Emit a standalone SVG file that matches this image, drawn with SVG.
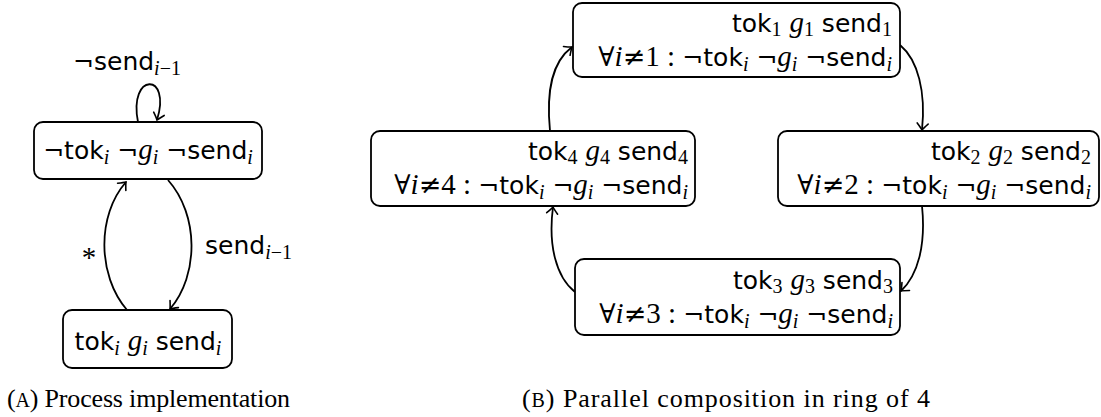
<svg xmlns="http://www.w3.org/2000/svg" width="1101" height="417" viewBox="0 0 1101 417">
<style>
.box{fill:#fff;stroke:#000;stroke-width:1.8}
.edge{fill:none;stroke:#000;stroke-width:1.8;marker-end:url(#arr)}
.s{font-family:"DejaVu Sans",sans-serif;font-size:25px}
.r{font-family:"Liberation Serif","DejaVu Serif",serif;font-size:29px}
.op{font-family:"DejaVu Serif",serif;font-size:27px}
.mi{font-family:"Liberation Serif","DejaVu Serif",serif;font-style:italic;font-size:29px}
.sub{font-size:20px}
.cap{font-family:"Liberation Serif","DejaVu Serif",serif;font-size:26px}
.sc{font-size:20px}
text{fill:#000}
</style>
<defs>
<marker id="arr" markerWidth="14" markerHeight="14" refX="0" refY="0" viewBox="-8 -7 10 14" orient="auto" markerUnits="userSpaceOnUse">
<path d="M-6.5,-5.5 Q-2,-1.3 0,0 Q-2,1.3 -6.5,5.5" fill="none" stroke="#000" stroke-width="1.6" stroke-linecap="round"/>
</marker>
</defs>
<g id="connectors">
<path class="edge" d="M138,122 C128,72 172,72 157,120"/>
<path class="edge" d="M127,310 C97,275 97,215 126,182"/>
<path class="edge" d="M168,180 C199,215 199,275 170,309"/>
<path class="edge" d="M550,131 C546,90 552,62 572,47"/>
<path class="edge" d="M900,45 C918,60 926,92 922,130"/>
<path class="edge" d="M922,206 C926,245 918,275 901,291"/>
<path class="edge" d="M575,292 C556,277 548,245 553,207"/>
</g>
<g id="labels">
<text x="127" y="70" text-anchor="middle"><tspan class="s">¬send</tspan><tspan class="mi sub" dy="5">i</tspan><tspan class="r sub">−1</tspan></text>
<text x="205" y="254"><tspan class="s">send</tspan><tspan class="mi sub" dy="5">i</tspan><tspan class="r sub">−1</tspan></text>
<text class="r" x="89" y="267" text-anchor="middle">*</text>
</g>
<g id="nodeA1">
<rect class="box" x="34" y="122" width="228" height="57" rx="9"/>
<text x="148" y="159" text-anchor="middle"><tspan class="s">¬tok</tspan><tspan class="mi sub" dy="5">i</tspan><tspan class="s" dy="-5"> ¬</tspan><tspan class="mi">g</tspan><tspan class="mi sub" dy="5">i</tspan><tspan class="s" dy="-5"> ¬send</tspan><tspan class="mi sub" dy="5">i</tspan></text>
</g>
<g id="nodeA2">
<rect class="box" x="63" y="310" width="169" height="58" rx="9"/>
<text x="148" y="350" text-anchor="middle"><tspan class="s">tok</tspan><tspan class="mi sub" dy="5">i</tspan><tspan class="s" dy="-5"> </tspan><tspan class="mi">g</tspan><tspan class="mi sub" dy="5">i</tspan><tspan class="s" dy="-5"> send</tspan><tspan class="mi sub" dy="5">i</tspan></text>
</g>
<g id="node1">
<rect class="box" x="573" y="3" width="327" height="74" rx="9"/>
<text x="892" y="32" text-anchor="end"><tspan class="s">tok</tspan><tspan class="r sub" dy="4">1</tspan><tspan class="s" dy="-4"> </tspan><tspan class="mi">g</tspan><tspan class="r sub" dy="4">1</tspan><tspan class="s" dy="-4"> send</tspan><tspan class="r sub" dy="4">1</tspan></text>
<text x="892" y="66" text-anchor="end"><tspan class="op">∀</tspan><tspan class="mi">i</tspan><tspan class="op">≠</tspan><tspan class="r">1 : </tspan><tspan class="s">¬tok</tspan><tspan class="mi sub" dy="5">i</tspan><tspan class="s" dy="-5"> ¬</tspan><tspan class="mi">g</tspan><tspan class="mi sub" dy="5">i</tspan><tspan class="s" dy="-5"> ¬send</tspan><tspan class="mi sub" dy="5">i</tspan></text>
</g>
<g id="node2">
<rect class="box" x="778" y="131" width="321" height="75" rx="9"/>
<text x="1091" y="160" text-anchor="end"><tspan class="s">tok</tspan><tspan class="r sub" dy="4">2</tspan><tspan class="s" dy="-4"> </tspan><tspan class="mi">g</tspan><tspan class="r sub" dy="4">2</tspan><tspan class="s" dy="-4"> send</tspan><tspan class="r sub" dy="4">2</tspan></text>
<text x="1091" y="194" text-anchor="end"><tspan class="op">∀</tspan><tspan class="mi">i</tspan><tspan class="op">≠</tspan><tspan class="r">2 : </tspan><tspan class="s">¬tok</tspan><tspan class="mi sub" dy="5">i</tspan><tspan class="s" dy="-5"> ¬</tspan><tspan class="mi">g</tspan><tspan class="mi sub" dy="5">i</tspan><tspan class="s" dy="-5"> ¬send</tspan><tspan class="mi sub" dy="5">i</tspan></text>
</g>
<g id="node3">
<rect class="box" x="575" y="259" width="325" height="76" rx="9"/>
<text x="893" y="289" text-anchor="end"><tspan class="s">tok</tspan><tspan class="r sub" dy="4">3</tspan><tspan class="s" dy="-4"> </tspan><tspan class="mi">g</tspan><tspan class="r sub" dy="4">3</tspan><tspan class="s" dy="-4"> send</tspan><tspan class="r sub" dy="4">3</tspan></text>
<text x="893" y="323" text-anchor="end"><tspan class="op">∀</tspan><tspan class="mi">i</tspan><tspan class="op">≠</tspan><tspan class="r">3 : </tspan><tspan class="s">¬tok</tspan><tspan class="mi sub" dy="5">i</tspan><tspan class="s" dy="-5"> ¬</tspan><tspan class="mi">g</tspan><tspan class="mi sub" dy="5">i</tspan><tspan class="s" dy="-5"> ¬send</tspan><tspan class="mi sub" dy="5">i</tspan></text>
</g>
<g id="node4">
<rect class="box" x="371" y="131" width="324" height="75" rx="9"/>
<text x="688" y="160" text-anchor="end"><tspan class="s">tok</tspan><tspan class="r sub" dy="4">4</tspan><tspan class="s" dy="-4"> </tspan><tspan class="mi">g</tspan><tspan class="r sub" dy="4">4</tspan><tspan class="s" dy="-4"> send</tspan><tspan class="r sub" dy="4">4</tspan></text>
<text x="688" y="194" text-anchor="end"><tspan class="op">∀</tspan><tspan class="mi">i</tspan><tspan class="op">≠</tspan><tspan class="r">4 : </tspan><tspan class="s">¬tok</tspan><tspan class="mi sub" dy="5">i</tspan><tspan class="s" dy="-5"> ¬</tspan><tspan class="mi">g</tspan><tspan class="mi sub" dy="5">i</tspan><tspan class="s" dy="-5"> ¬send</tspan><tspan class="mi sub" dy="5">i</tspan></text>
</g>
<g id="captions">
<text class="cap" x="7" y="407" textLength="283" lengthAdjust="spacing">(<tspan class="sc">A</tspan>) Process implementation</text>
<text class="cap" x="522" y="407" textLength="408" lengthAdjust="spacing">(<tspan class="sc">B</tspan>) Parallel composition in ring of 4</text>
</g>
</svg>
